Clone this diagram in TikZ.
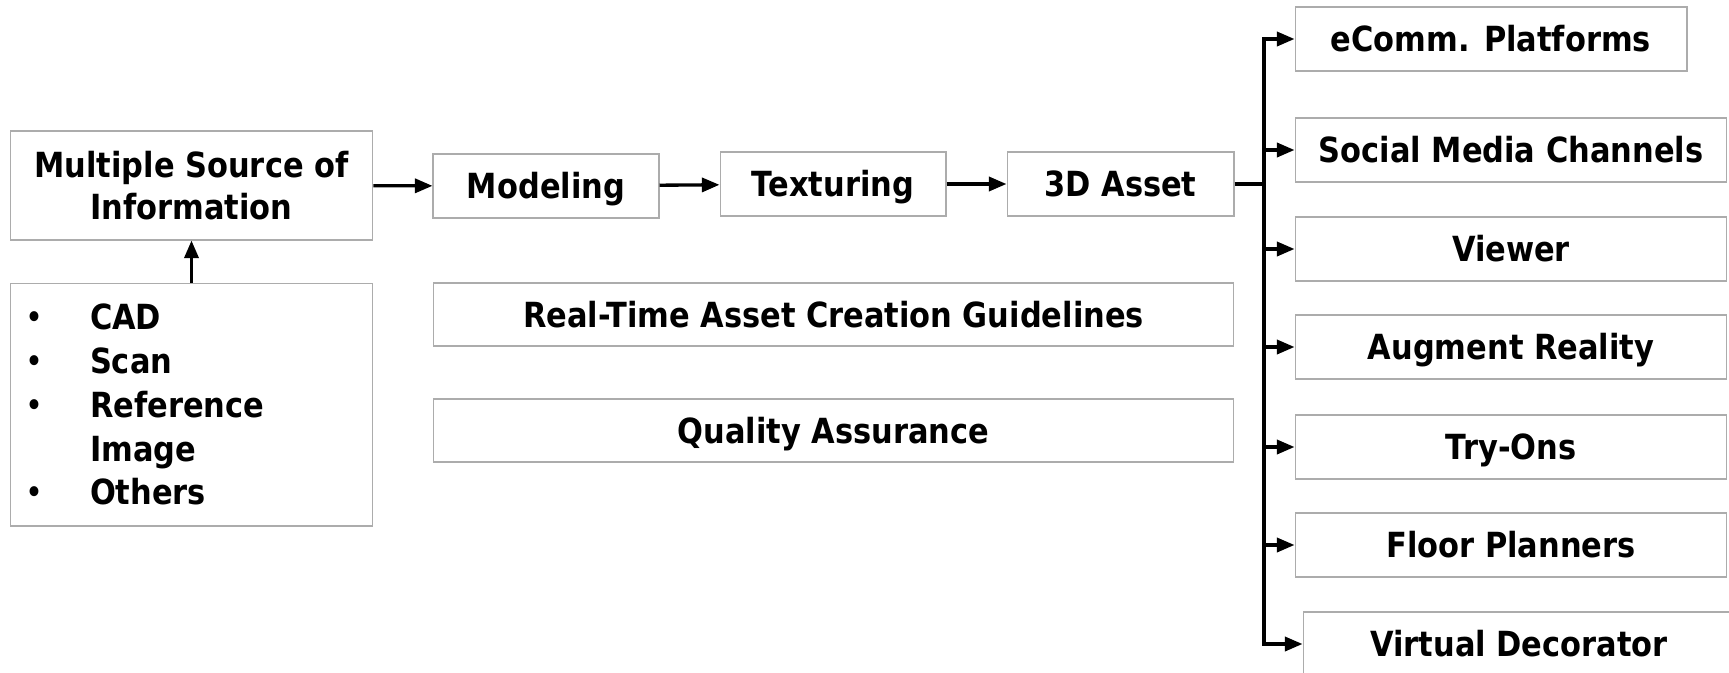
\documentclass[tikz,border=0pt]{standalone}
\usepackage{fontspec}
\setmainfont{DejaVu Sans}[FakeStretch=0.88]
\usetikzlibrary{arrows.meta}
\newcommand{\bul}{\makebox[1.3cm][l]{\mdseries\textbullet}}

\begin{document}
\begin{tikzpicture}[x=0.02cm, y=-0.02cm,
	box/.style={draw=gray!65, line width=0.6pt, font=\fontsize{19.7}{23.5}\selectfont\bfseries, align=center, inner sep=0pt, minimum height=1.28cm},
	word/.style={box, text height=14.4pt, text depth=0pt},
	link/.style={line width=1.9pt, -{Triangle[length=10pt, width=8pt]}}]
				\useasboundingbox (0,0) rectangle (1729,673);
				\node[box, minimum width=7.26cm, minimum height=2.18cm] (S) at (191.5,185.5) {Multiple Source of\\Information};
				\node[box, font=\fontsize{19.7}{25}\selectfont\bfseries, text width=6.66cm, inner xsep=0.3cm, align=left, minimum height=4.86cm] (L) at (191.5,404.5) {\bul CAD\\\bul Scan\\\bul Reference\\\hspace*{1.3cm}Image\\\bul Others};
				\node[word, minimum width=4.52cm] (M) at (546,186) {Modeling};
				\node[word, minimum width=4.52cm] (T) at (833,184) {Texturing};
				\node[word, minimum width=4.54cm] (A) at (1120.5,184) {3D Asset};
				\node[word, minimum width=16.02cm, minimum height=1.26cm] (G) at (833.5,314.5) {Real-Time Asset Creation Guidelines};
				\node[word, minimum width=16.02cm, minimum height=1.26cm] (Q) at (833.5,430.5) {Quality Assurance};
				\node[word, minimum width=7.84cm] (E) at (1491,39) {eComm. Platforms};
				\node[word, minimum width=8.64cm] (C) at (1511,150) {Social Media Channels};
				\node[word, minimum width=8.64cm] (V) at (1511,249) {Viewer};
				\node[word, minimum width=8.64cm] (R) at (1511,347) {Augment Reality};
				\node[word, minimum width=8.64cm] (O) at (1511,447) {Try-Ons};
				\node[word, minimum width=8.64cm] (F) at (1511,545) {Floor Planners};
				\node[word, minimum width=8.64cm] (D) at (1519,644) {Virtual Decorator};
				\coordinate (J) at (1264,184);
				\draw[link] (L) -- (S);
				\draw[link] (S) -- (M);
				\draw[link] (M) -- (T);
				\draw[link] (T) -- (A);
				\draw[line width=1.9pt] (A) -- (J);
				\draw[link] (J) |- (E);
				\draw[link] (J) |- (C);
				\draw[link] (J) |- (V);
				\draw[link] (J) |- (R);
				\draw[link] (J) |- (O);
				\draw[link] (J) |- (F);
				\draw[link] (J) |- (D);
			\end{tikzpicture}
\end{document}
